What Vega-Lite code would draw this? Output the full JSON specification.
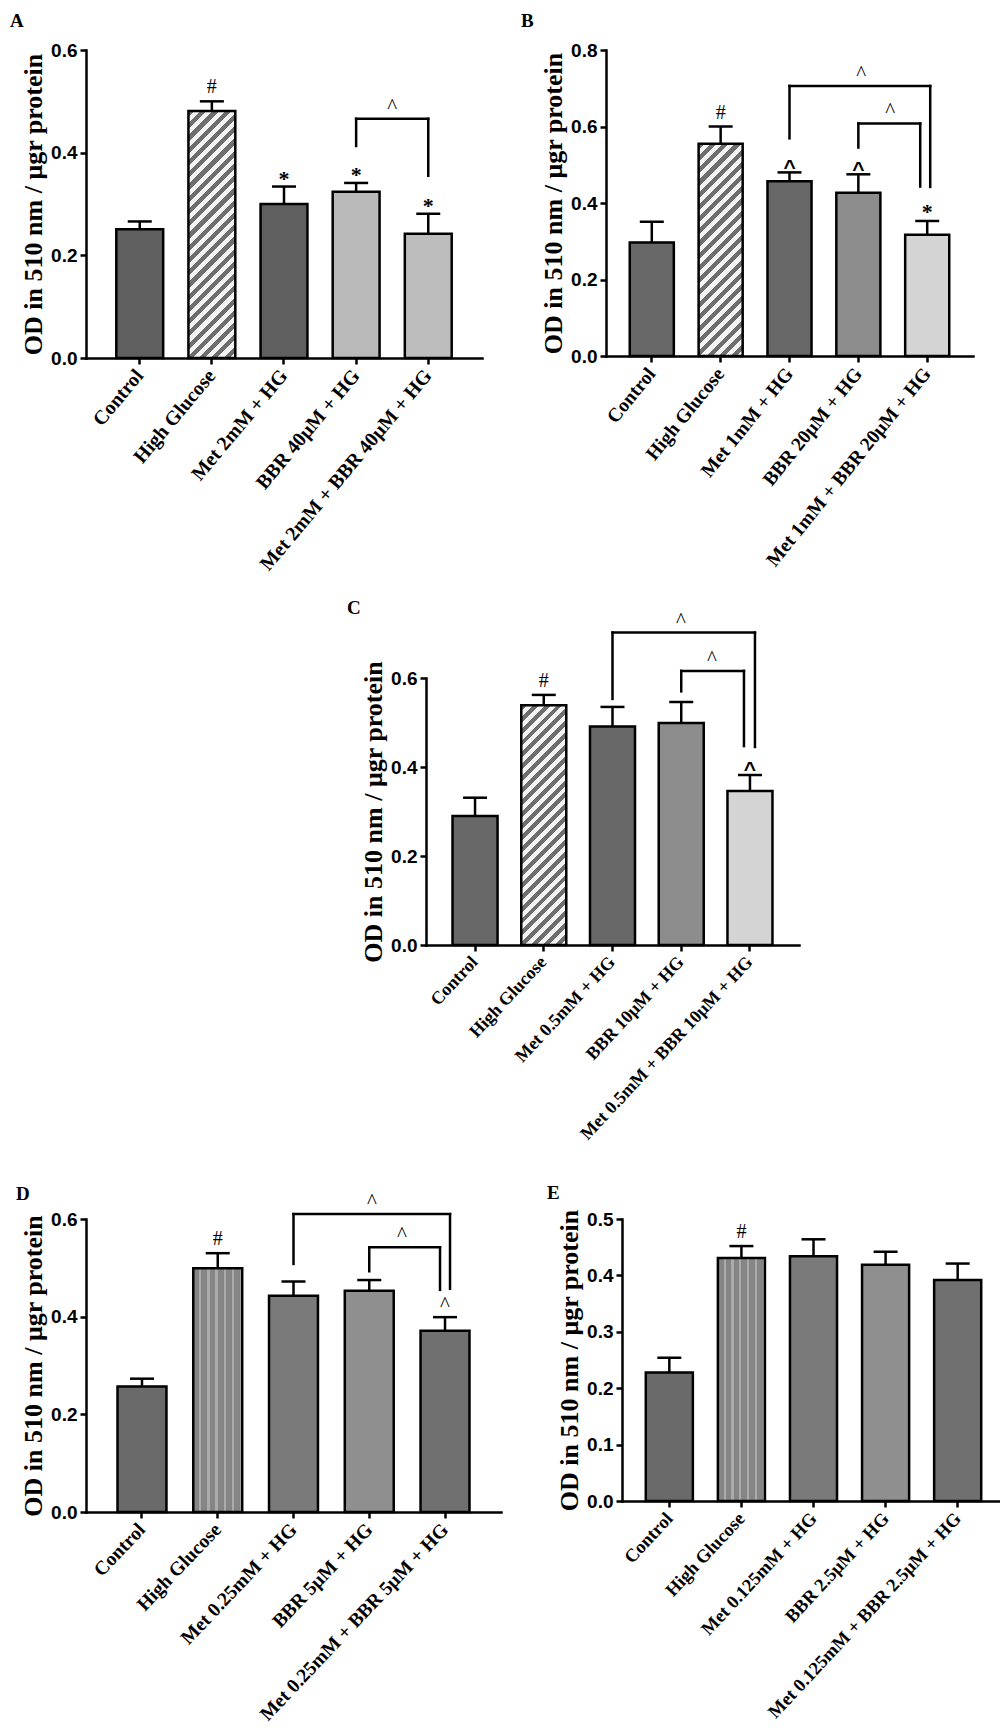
{
"$schema": "https://vega.github.io/schema/vega-lite/v6.json",
"padding": {"left": 10, "top": 12, "right": 0, "bottom": 0},
"background": "white",
"spacing": 24,
"resolve": {"scale": {"fill": "independent"}},
"config": {
  "view": {"stroke": null},
  "axis": {"domainColor": "black", "domainWidth": 2.5, "domainCap": "square", "tickColor": "black", "tickWidth": 2.5, "tickSize": 6, "grid": false, "labelColor": "black", "titleColor": "black"},
  "axisX": {"labelAngle": -50, "labelFont": "Liberation Serif", "labelFontWeight": "bold", "labelFontSize": 20, "labelAlign": "right", "labelBaseline": "middle", "labelPadding": 8, "labelLimit": 600, "labelOverlap": false, "labelFlush": false},
  "axisY": {"labelFont": "Liberation Sans", "labelFontWeight": "bold", "labelFontSize": 19, "labelPadding": 3, "titleFont": "Liberation Serif", "titleFontWeight": "bold", "titleFontSize": 26, "titlePadding": 4},
  "title": {"font": "Liberation Serif", "fontWeight": "bold", "fontSize": 19, "anchor": "start", "frame": "group", "color": "black"}
},
"datasets": {
  "bars": [
    {"panel": "A", "group": "Control", "t": "Control", "mean": 0.251, "hi": 0.266, "sig": ""},
    {"panel": "A", "group": "High Glucose", "t": "HG", "mean": 0.481, "hi": 0.500, "sig": "#"},
    {"panel": "A", "group": "Met 2mM + HG", "t": "Met", "mean": 0.300, "hi": 0.334, "sig": "*"},
    {"panel": "A", "group": "BBR 40μM + HG", "t": "BBR", "mean": 0.324, "hi": 0.341, "sig": "*"},
    {"panel": "A", "group": "Met 2mM + BBR 40μM + HG", "t": "Combo", "mean": 0.242, "hi": 0.281, "sig": "*"},
    {"panel": "B", "group": "Control", "t": "Control", "mean": 0.297, "hi": 0.351, "sig": ""},
    {"panel": "B", "group": "High Glucose", "t": "HG", "mean": 0.555, "hi": 0.600, "sig": "#"},
    {"panel": "B", "group": "Met 1mM + HG", "t": "Met", "mean": 0.457, "hi": 0.480, "sig": "^"},
    {"panel": "B", "group": "BBR 20μM + HG", "t": "BBR", "mean": 0.427, "hi": 0.475, "sig": "^"},
    {"panel": "B", "group": "Met 1mM + BBR 20μM + HG", "t": "Combo", "mean": 0.317, "hi": 0.353, "sig": "*"},
    {"panel": "C", "group": "Control", "t": "Control", "mean": 0.290, "hi": 0.331, "sig": ""},
    {"panel": "C", "group": "High Glucose", "t": "HG", "mean": 0.539, "hi": 0.562, "sig": "#"},
    {"panel": "C", "group": "Met 0.5mM + HG", "t": "Met", "mean": 0.491, "hi": 0.535, "sig": ""},
    {"panel": "C", "group": "BBR 10μM + HG", "t": "BBR", "mean": 0.499, "hi": 0.546, "sig": ""},
    {"panel": "C", "group": "Met 0.5mM + BBR 10μM + HG", "t": "Combo", "mean": 0.346, "hi": 0.382, "sig": "^"},
    {"panel": "D", "group": "Control", "t": "Control", "mean": 0.257, "hi": 0.273, "sig": ""},
    {"panel": "D", "group": "High Glucose", "t": "HG", "mean": 0.499, "hi": 0.530, "sig": "#"},
    {"panel": "D", "group": "Met 0.25mM + HG", "t": "Met", "mean": 0.443, "hi": 0.472, "sig": ""},
    {"panel": "D", "group": "BBR 5μM + HG", "t": "BBR", "mean": 0.453, "hi": 0.475, "sig": ""},
    {"panel": "D", "group": "Met 0.25mM + BBR 5μM + HG", "t": "Combo", "mean": 0.371, "hi": 0.399, "sig": "^"},
    {"panel": "E", "group": "Control", "t": "Control", "mean": 0.228, "hi": 0.254, "sig": ""},
    {"panel": "E", "group": "High Glucose", "t": "HG", "mean": 0.431, "hi": 0.452, "sig": "#"},
    {"panel": "E", "group": "Met 0.125mM + HG", "t": "Met", "mean": 0.434, "hi": 0.464, "sig": ""},
    {"panel": "E", "group": "BBR 2.5μM + HG", "t": "BBR", "mean": 0.419, "hi": 0.442, "sig": ""},
    {"panel": "E", "group": "Met 0.125mM + BBR 2.5μM + HG", "t": "Combo", "mean": 0.392, "hi": 0.421, "sig": ""}
  ],
  "br": [
    {"panel": "A", "kind": "single", "from": "BBR 40μM + HG", "to": "Met 2mM + BBR 40μM + HG", "top": 0.466, "fromEnd": 0.413, "toEnd": 0.355, "sym": "^"},
    {"panel": "B", "kind": "outer", "from": "Met 1mM + HG", "to": "Met 1mM + BBR 20μM + HG", "top": 0.706, "fromEnd": 0.569, "toEnd": 0.442, "sym": "^"},
    {"panel": "B", "kind": "inner", "from": "BBR 20μM + HG", "to": "Met 1mM + BBR 20μM + HG", "top": 0.608, "fromEnd": 0.545, "toEnd": 0.443, "sym": "^"},
    {"panel": "C", "kind": "outer", "from": "Met 0.5mM + HG", "to": "Met 0.5mM + BBR 10μM + HG", "top": 0.702, "fromEnd": 0.553, "toEnd": 0.445, "sym": "^"},
    {"panel": "C", "kind": "inner", "from": "BBR 10μM + HG", "to": "Met 0.5mM + BBR 10μM + HG", "top": 0.616, "fromEnd": 0.570, "toEnd": 0.447, "sym": "^"},
    {"panel": "D", "kind": "outer", "from": "Met 0.25mM + HG", "to": "Met 0.25mM + BBR 5μM + HG", "top": 0.610, "fromEnd": 0.508, "toEnd": 0.457, "sym": "^"},
    {"panel": "D", "kind": "inner", "from": "BBR 5μM + HG", "to": "Met 0.25mM + BBR 5μM + HG", "top": 0.542, "fromEnd": 0.493, "toEnd": 0.455, "sym": "^"}
  ]
},
"vconcat": [
 {"hconcat": [
  {"width": 396, "height": 308,
   "title": {"text": "A", "dx": -76, "offset": 10},
   "layer": [
    {"data": {"name": "bars"}, "transform": [{"filter": "datum.panel=='A'"}],
     "mark": {"type": "bar", "stroke": "black", "strokeWidth": 2.5, "opacity": 1},
     "encoding": {
      "x": {"field": "group", "type": "nominal", "sort": null, "scale": {"paddingInner": 0.35, "paddingOuter": 0.42}, "axis": {"title": null, "labelAngle": -50, "labelFontSize": 20}},
      "y": {"field": "mean", "type": "quantitative", "scale": {"domain": [0, 0.6], "nice": false}, "axis": {"values": [0, 0.2, 0.4, 0.6], "format": ".1f", "title": "OD in 510 nm / μgr protein"}},
      "fill": {"condition": {"test": "datum.t=='HG'", "value": {"gradient": "linear", "x1": 0, "y1": 0, "x2": 0.2181, "y2": 1.1485, "stops": [
        {"offset": 0, "color": "#6e6e6e"},
        {"offset": 0.0208, "color": "#6e6e6e"}, {"offset": 0.0208, "color": "#f4f4f4"}, {"offset": 0.0417, "color": "#f4f4f4"}, {"offset": 0.0417, "color": "#6e6e6e"},
        {"offset": 0.0625, "color": "#6e6e6e"}, {"offset": 0.0625, "color": "#f4f4f4"}, {"offset": 0.0833, "color": "#f4f4f4"}, {"offset": 0.0833, "color": "#6e6e6e"},
        {"offset": 0.1042, "color": "#6e6e6e"}, {"offset": 0.1042, "color": "#f4f4f4"}, {"offset": 0.125, "color": "#f4f4f4"}, {"offset": 0.125, "color": "#6e6e6e"},
        {"offset": 0.1458, "color": "#6e6e6e"}, {"offset": 0.1458, "color": "#f4f4f4"}, {"offset": 0.1667, "color": "#f4f4f4"}, {"offset": 0.1667, "color": "#6e6e6e"},
        {"offset": 0.1875, "color": "#6e6e6e"}, {"offset": 0.1875, "color": "#f4f4f4"}, {"offset": 0.2083, "color": "#f4f4f4"}, {"offset": 0.2083, "color": "#6e6e6e"},
        {"offset": 0.2292, "color": "#6e6e6e"}, {"offset": 0.2292, "color": "#f4f4f4"}, {"offset": 0.25, "color": "#f4f4f4"}, {"offset": 0.25, "color": "#6e6e6e"},
        {"offset": 0.2708, "color": "#6e6e6e"}, {"offset": 0.2708, "color": "#f4f4f4"}, {"offset": 0.2917, "color": "#f4f4f4"}, {"offset": 0.2917, "color": "#6e6e6e"},
        {"offset": 0.3125, "color": "#6e6e6e"}, {"offset": 0.3125, "color": "#f4f4f4"}, {"offset": 0.3333, "color": "#f4f4f4"}, {"offset": 0.3333, "color": "#6e6e6e"},
        {"offset": 0.3542, "color": "#6e6e6e"}, {"offset": 0.3542, "color": "#f4f4f4"}, {"offset": 0.375, "color": "#f4f4f4"}, {"offset": 0.375, "color": "#6e6e6e"},
        {"offset": 0.3958, "color": "#6e6e6e"}, {"offset": 0.3958, "color": "#f4f4f4"}, {"offset": 0.4167, "color": "#f4f4f4"}, {"offset": 0.4167, "color": "#6e6e6e"},
        {"offset": 0.4375, "color": "#6e6e6e"}, {"offset": 0.4375, "color": "#f4f4f4"}, {"offset": 0.4583, "color": "#f4f4f4"}, {"offset": 0.4583, "color": "#6e6e6e"},
        {"offset": 0.4792, "color": "#6e6e6e"}, {"offset": 0.4792, "color": "#f4f4f4"}, {"offset": 0.5, "color": "#f4f4f4"}, {"offset": 0.5, "color": "#6e6e6e"},
        {"offset": 0.5208, "color": "#6e6e6e"}, {"offset": 0.5208, "color": "#f4f4f4"}, {"offset": 0.5417, "color": "#f4f4f4"}, {"offset": 0.5417, "color": "#6e6e6e"},
        {"offset": 0.5625, "color": "#6e6e6e"}, {"offset": 0.5625, "color": "#f4f4f4"}, {"offset": 0.5833, "color": "#f4f4f4"}, {"offset": 0.5833, "color": "#6e6e6e"},
        {"offset": 0.6042, "color": "#6e6e6e"}, {"offset": 0.6042, "color": "#f4f4f4"}, {"offset": 0.625, "color": "#f4f4f4"}, {"offset": 0.625, "color": "#6e6e6e"},
        {"offset": 0.6458, "color": "#6e6e6e"}, {"offset": 0.6458, "color": "#f4f4f4"}, {"offset": 0.6667, "color": "#f4f4f4"}, {"offset": 0.6667, "color": "#6e6e6e"},
        {"offset": 0.6875, "color": "#6e6e6e"}, {"offset": 0.6875, "color": "#f4f4f4"}, {"offset": 0.7083, "color": "#f4f4f4"}, {"offset": 0.7083, "color": "#6e6e6e"},
        {"offset": 0.7292, "color": "#6e6e6e"}, {"offset": 0.7292, "color": "#f4f4f4"}, {"offset": 0.75, "color": "#f4f4f4"}, {"offset": 0.75, "color": "#6e6e6e"},
        {"offset": 0.7708, "color": "#6e6e6e"}, {"offset": 0.7708, "color": "#f4f4f4"}, {"offset": 0.7917, "color": "#f4f4f4"}, {"offset": 0.7917, "color": "#6e6e6e"},
        {"offset": 0.8125, "color": "#6e6e6e"}, {"offset": 0.8125, "color": "#f4f4f4"}, {"offset": 0.8333, "color": "#f4f4f4"}, {"offset": 0.8333, "color": "#6e6e6e"},
        {"offset": 0.8542, "color": "#6e6e6e"}, {"offset": 0.8542, "color": "#f4f4f4"}, {"offset": 0.875, "color": "#f4f4f4"}, {"offset": 0.875, "color": "#6e6e6e"},
        {"offset": 0.8958, "color": "#6e6e6e"}, {"offset": 0.8958, "color": "#f4f4f4"}, {"offset": 0.9167, "color": "#f4f4f4"}, {"offset": 0.9167, "color": "#6e6e6e"},
        {"offset": 0.9375, "color": "#6e6e6e"}, {"offset": 0.9375, "color": "#f4f4f4"}, {"offset": 0.9583, "color": "#f4f4f4"}, {"offset": 0.9583, "color": "#6e6e6e"},
        {"offset": 0.9792, "color": "#6e6e6e"}, {"offset": 0.9792, "color": "#f4f4f4"}, {"offset": 1, "color": "#f4f4f4"}]}},
       "field": "t", "type": "nominal", "scale": {"domain": ["Control", "HG", "Met", "BBR", "Combo"], "range": ["#5f5f5f", "#a9a9a9", "#5f5f5f", "#b9b9b9", "#bdbdbd"]}, "legend": null}}},
    {"data": {"name": "bars"}, "transform": [{"filter": "datum.panel=='A'"}],
     "mark": {"type": "rule", "strokeWidth": 2.5, "color": "black"},
     "encoding": {"x": {"field": "group", "type": "nominal", "sort": null}, "y": {"field": "mean", "type": "quantitative"}, "y2": {"field": "hi"}}},
    {"data": {"name": "bars"}, "transform": [{"filter": "datum.panel=='A'"}],
     "mark": {"type": "tick", "thickness": 2.5, "size": 24, "color": "black", "opacity": 1},
     "encoding": {"x": {"field": "group", "type": "nominal", "sort": null}, "y": {"field": "hi", "type": "quantitative"}}},
    {"data": {"name": "bars"}, "transform": [{"filter": "datum.panel=='A' && datum.sig=='#'"}],
     "mark": {"type": "text", "font": "Liberation Serif", "fontSize": 20, "baseline": "alphabetic", "dy": -8, "color": "black"},
     "encoding": {"x": {"field": "group", "type": "nominal", "sort": null}, "y": {"field": "hi", "type": "quantitative"}, "text": {"field": "sig"}}},
    {"data": {"name": "bars"}, "transform": [{"filter": "datum.panel=='A' && datum.sig=='*'"}],
     "mark": {"type": "text", "font": "Liberation Serif", "fontWeight": "bold", "fontSize": 22, "baseline": "alphabetic", "dy": -1, "color": "black"},
     "encoding": {"x": {"field": "group", "type": "nominal", "sort": null}, "y": {"field": "hi", "type": "quantitative"}, "text": {"field": "sig"}}},
    {"data": {"name": "br"}, "transform": [{"filter": "datum.panel=='A'"}],
     "mark": {"type": "rule", "strokeWidth": 2.5, "color": "black", "strokeCap": "square"},
     "encoding": {"x": {"field": "from", "type": "nominal", "sort": null}, "x2": {"field": "to"}, "y": {"field": "top", "type": "quantitative"}}},
    {"data": {"name": "br"}, "transform": [{"filter": "datum.panel=='A'"}],
     "mark": {"type": "rule", "strokeWidth": 2.5, "color": "black", "strokeCap": "square"},
     "encoding": {"x": {"field": "from", "type": "nominal", "sort": null}, "y": {"field": "top", "type": "quantitative"}, "y2": {"field": "fromEnd"}}},
    {"data": {"name": "br"}, "transform": [{"filter": "datum.panel=='A'"}],
     "mark": {"type": "rule", "strokeWidth": 2.5, "color": "black", "strokeCap": "square"},
     "encoding": {"x": {"field": "to", "type": "nominal", "sort": null}, "y": {"field": "top", "type": "quantitative"}, "y2": {"field": "toEnd"}}},
    {"data": {"name": "br"}, "transform": [{"filter": "datum.panel=='A'"}],
     "mark": {"type": "text", "font": "Liberation Serif", "fontSize": 21, "baseline": "alphabetic", "dx": -36, "dy": -6, "color": "black"},
     "encoding": {"x": {"field": "to", "type": "nominal", "sort": null}, "y": {"field": "top", "type": "quantitative"}, "text": {"field": "sym"}}}
   ]},
  {"width": 367, "height": 306,
   "title": {"text": "B", "dx": -85, "offset": 10},
   "layer": [
    {"data": {"name": "bars"}, "transform": [{"filter": "datum.panel=='B'"}],
     "mark": {"type": "bar", "stroke": "black", "strokeWidth": 2.5, "opacity": 1},
     "encoding": {
      "x": {"field": "group", "type": "nominal", "sort": null, "scale": {"paddingInner": 0.36, "paddingOuter": 0.345}, "axis": {"title": null, "labelAngle": -51, "labelFontSize": 19.5}},
      "y": {"field": "mean", "type": "quantitative", "scale": {"domain": [0, 0.8], "nice": false}, "axis": {"values": [0, 0.2, 0.4, 0.6, 0.8], "format": ".1f", "title": "OD in 510 nm / μgr protein"}},
      "fill": {"condition": {"test": "datum.t=='HG'", "value": {"gradient": "linear", "x1": 0, "y1": 0, "x2": 0.2403, "y2": 1.1577, "stops": [
        {"offset": 0, "color": "#6e6e6e"},
        {"offset": 0.0238, "color": "#6e6e6e"}, {"offset": 0.0238, "color": "#f4f4f4"}, {"offset": 0.0476, "color": "#f4f4f4"}, {"offset": 0.0476, "color": "#6e6e6e"},
        {"offset": 0.0714, "color": "#6e6e6e"}, {"offset": 0.0714, "color": "#f4f4f4"}, {"offset": 0.0952, "color": "#f4f4f4"}, {"offset": 0.0952, "color": "#6e6e6e"},
        {"offset": 0.119, "color": "#6e6e6e"}, {"offset": 0.119, "color": "#f4f4f4"}, {"offset": 0.1429, "color": "#f4f4f4"}, {"offset": 0.1429, "color": "#6e6e6e"},
        {"offset": 0.1667, "color": "#6e6e6e"}, {"offset": 0.1667, "color": "#f4f4f4"}, {"offset": 0.1905, "color": "#f4f4f4"}, {"offset": 0.1905, "color": "#6e6e6e"},
        {"offset": 0.2143, "color": "#6e6e6e"}, {"offset": 0.2143, "color": "#f4f4f4"}, {"offset": 0.2381, "color": "#f4f4f4"}, {"offset": 0.2381, "color": "#6e6e6e"},
        {"offset": 0.2619, "color": "#6e6e6e"}, {"offset": 0.2619, "color": "#f4f4f4"}, {"offset": 0.2857, "color": "#f4f4f4"}, {"offset": 0.2857, "color": "#6e6e6e"},
        {"offset": 0.3095, "color": "#6e6e6e"}, {"offset": 0.3095, "color": "#f4f4f4"}, {"offset": 0.3333, "color": "#f4f4f4"}, {"offset": 0.3333, "color": "#6e6e6e"},
        {"offset": 0.3571, "color": "#6e6e6e"}, {"offset": 0.3571, "color": "#f4f4f4"}, {"offset": 0.381, "color": "#f4f4f4"}, {"offset": 0.381, "color": "#6e6e6e"},
        {"offset": 0.4048, "color": "#6e6e6e"}, {"offset": 0.4048, "color": "#f4f4f4"}, {"offset": 0.4286, "color": "#f4f4f4"}, {"offset": 0.4286, "color": "#6e6e6e"},
        {"offset": 0.4524, "color": "#6e6e6e"}, {"offset": 0.4524, "color": "#f4f4f4"}, {"offset": 0.4762, "color": "#f4f4f4"}, {"offset": 0.4762, "color": "#6e6e6e"},
        {"offset": 0.5, "color": "#6e6e6e"}, {"offset": 0.5, "color": "#f4f4f4"}, {"offset": 0.5238, "color": "#f4f4f4"}, {"offset": 0.5238, "color": "#6e6e6e"},
        {"offset": 0.5476, "color": "#6e6e6e"}, {"offset": 0.5476, "color": "#f4f4f4"}, {"offset": 0.5714, "color": "#f4f4f4"}, {"offset": 0.5714, "color": "#6e6e6e"},
        {"offset": 0.5952, "color": "#6e6e6e"}, {"offset": 0.5952, "color": "#f4f4f4"}, {"offset": 0.619, "color": "#f4f4f4"}, {"offset": 0.619, "color": "#6e6e6e"},
        {"offset": 0.6429, "color": "#6e6e6e"}, {"offset": 0.6429, "color": "#f4f4f4"}, {"offset": 0.6667, "color": "#f4f4f4"}, {"offset": 0.6667, "color": "#6e6e6e"},
        {"offset": 0.6905, "color": "#6e6e6e"}, {"offset": 0.6905, "color": "#f4f4f4"}, {"offset": 0.7143, "color": "#f4f4f4"}, {"offset": 0.7143, "color": "#6e6e6e"},
        {"offset": 0.7381, "color": "#6e6e6e"}, {"offset": 0.7381, "color": "#f4f4f4"}, {"offset": 0.7619, "color": "#f4f4f4"}, {"offset": 0.7619, "color": "#6e6e6e"},
        {"offset": 0.7857, "color": "#6e6e6e"}, {"offset": 0.7857, "color": "#f4f4f4"}, {"offset": 0.8095, "color": "#f4f4f4"}, {"offset": 0.8095, "color": "#6e6e6e"},
        {"offset": 0.8333, "color": "#6e6e6e"}, {"offset": 0.8333, "color": "#f4f4f4"}, {"offset": 0.8571, "color": "#f4f4f4"}, {"offset": 0.8571, "color": "#6e6e6e"},
        {"offset": 0.881, "color": "#6e6e6e"}, {"offset": 0.881, "color": "#f4f4f4"}, {"offset": 0.9048, "color": "#f4f4f4"}, {"offset": 0.9048, "color": "#6e6e6e"},
        {"offset": 0.9286, "color": "#6e6e6e"}, {"offset": 0.9286, "color": "#f4f4f4"}, {"offset": 0.9524, "color": "#f4f4f4"}, {"offset": 0.9524, "color": "#6e6e6e"},
        {"offset": 0.9762, "color": "#6e6e6e"}, {"offset": 0.9762, "color": "#f4f4f4"}, {"offset": 1, "color": "#f4f4f4"}]}},
       "field": "t", "type": "nominal", "scale": {"domain": ["Control", "HG", "Met", "BBR", "Combo"], "range": ["#686868", "#a9a9a9", "#686868", "#8c8c8c", "#d4d4d4"]}, "legend": null}}},
    {"data": {"name": "bars"}, "transform": [{"filter": "datum.panel=='B'"}],
     "mark": {"type": "rule", "strokeWidth": 2.5, "color": "black"},
     "encoding": {"x": {"field": "group", "type": "nominal", "sort": null}, "y": {"field": "mean", "type": "quantitative"}, "y2": {"field": "hi"}}},
    {"data": {"name": "bars"}, "transform": [{"filter": "datum.panel=='B'"}],
     "mark": {"type": "tick", "thickness": 2.5, "size": 24, "color": "black", "opacity": 1},
     "encoding": {"x": {"field": "group", "type": "nominal", "sort": null}, "y": {"field": "hi", "type": "quantitative"}}},
    {"data": {"name": "bars"}, "transform": [{"filter": "datum.panel=='B' && datum.sig=='#'"}],
     "mark": {"type": "text", "font": "Liberation Serif", "fontSize": 20, "baseline": "alphabetic", "dy": -8, "color": "black"},
     "encoding": {"x": {"field": "group", "type": "nominal", "sort": null}, "y": {"field": "hi", "type": "quantitative"}, "text": {"field": "sig"}}},
    {"data": {"name": "bars"}, "transform": [{"filter": "datum.panel=='B' && datum.sig=='*'"}],
     "mark": {"type": "text", "font": "Liberation Serif", "fontWeight": "bold", "fontSize": 22, "baseline": "alphabetic", "dy": -2, "color": "black"},
     "encoding": {"x": {"field": "group", "type": "nominal", "sort": null}, "y": {"field": "hi", "type": "quantitative"}, "text": {"field": "sig"}}},
    {"data": {"name": "bars"}, "transform": [{"filter": "datum.panel=='B' && datum.sig=='^'"}],
     "mark": {"type": "text", "font": "Liberation Sans", "fontWeight": "bold", "fontSize": 21, "baseline": "alphabetic", "dy": 2, "color": "black"},
     "encoding": {"x": {"field": "group", "type": "nominal", "sort": null}, "y": {"field": "hi", "type": "quantitative"}, "text": {"field": "sig"}}},
    {"data": {"name": "br"}, "transform": [{"filter": "datum.panel=='B'"}],
     "mark": {"type": "rule", "strokeWidth": 2.5, "color": "black", "strokeCap": "square"},
     "encoding": {"x": {"field": "from", "type": "nominal", "sort": null}, "y": {"field": "top", "type": "quantitative"}, "y2": {"field": "fromEnd"}}},
    {"data": {"name": "br"}, "transform": [{"filter": "datum.panel=='B' && datum.kind=='outer'"}],
     "mark": {"type": "rule", "strokeWidth": 2.5, "color": "black", "strokeCap": "square", "x2Offset": 3},
     "encoding": {"x": {"field": "from", "type": "nominal", "sort": null}, "x2": {"field": "to"}, "y": {"field": "top", "type": "quantitative"}}},
    {"data": {"name": "br"}, "transform": [{"filter": "datum.panel=='B' && datum.kind=='outer'"}],
     "mark": {"type": "rule", "strokeWidth": 2.5, "color": "black", "strokeCap": "square", "xOffset": 3},
     "encoding": {"x": {"field": "to", "type": "nominal", "sort": null}, "y": {"field": "top", "type": "quantitative"}, "y2": {"field": "toEnd"}}},
    {"data": {"name": "br"}, "transform": [{"filter": "datum.panel=='B' && datum.kind=='outer'"}],
     "mark": {"type": "text", "font": "Liberation Serif", "fontSize": 21, "baseline": "alphabetic", "dx": -66, "dy": -6, "color": "black"},
     "encoding": {"x": {"field": "to", "type": "nominal", "sort": null}, "y": {"field": "top", "type": "quantitative"}, "text": {"field": "sym"}}},
    {"data": {"name": "br"}, "transform": [{"filter": "datum.panel=='B' && datum.kind=='inner'"}],
     "mark": {"type": "rule", "strokeWidth": 2.5, "color": "black", "strokeCap": "square", "x2Offset": -7},
     "encoding": {"x": {"field": "from", "type": "nominal", "sort": null}, "x2": {"field": "to"}, "y": {"field": "top", "type": "quantitative"}}},
    {"data": {"name": "br"}, "transform": [{"filter": "datum.panel=='B' && datum.kind=='inner'"}],
     "mark": {"type": "rule", "strokeWidth": 2.5, "color": "black", "strokeCap": "square", "xOffset": -7},
     "encoding": {"x": {"field": "to", "type": "nominal", "sort": null}, "y": {"field": "top", "type": "quantitative"}, "y2": {"field": "toEnd"}}},
    {"data": {"name": "br"}, "transform": [{"filter": "datum.panel=='B' && datum.kind=='inner'"}],
     "mark": {"type": "text", "font": "Liberation Serif", "fontSize": 21, "baseline": "alphabetic", "dx": -37, "dy": -6, "color": "black"},
     "encoding": {"x": {"field": "to", "type": "nominal", "sort": null}, "y": {"field": "top", "type": "quantitative"}, "text": {"field": "sym"}}}
   ]}
 ], "spacing": 39, "resolve": {"scale": {"fill": "independent"}}},
 {"hconcat": [
  {"width": 261, "height": 482, "data": {"values": []}, "mark": "point"},
  {"width": 373, "height": 267,
   "title": {"text": "C", "dx": -79, "offset": -8},
   "layer": [
    {"data": {"name": "bars"}, "transform": [{"filter": "datum.panel=='C'"}],
     "mark": {"type": "bar", "stroke": "black", "strokeWidth": 2.5, "opacity": 1},
     "encoding": {
      "x": {"field": "group", "type": "nominal", "sort": null, "scale": {"paddingInner": 0.345, "paddingOuter": 0.386}, "axis": {"title": null, "labelAngle": -47, "labelFontSize": 18}},
      "y": {"field": "mean", "type": "quantitative", "scale": {"domain": [0, 0.6], "nice": false}, "axis": {"values": [0, 0.2, 0.4, 0.6], "format": ".1f", "title": "OD in 510 nm / μgr protein"}},
      "fill": {"condition": {"test": "datum.t=='HG'", "value": {"gradient": "linear", "x1": 0, "y1": 0, "x2": 0.2153, "y2": 1.1473, "stops": [
        {"offset": 0, "color": "#6e6e6e"},
        {"offset": 0.0208, "color": "#6e6e6e"}, {"offset": 0.0208, "color": "#f4f4f4"}, {"offset": 0.0417, "color": "#f4f4f4"}, {"offset": 0.0417, "color": "#6e6e6e"},
        {"offset": 0.0625, "color": "#6e6e6e"}, {"offset": 0.0625, "color": "#f4f4f4"}, {"offset": 0.0833, "color": "#f4f4f4"}, {"offset": 0.0833, "color": "#6e6e6e"},
        {"offset": 0.1042, "color": "#6e6e6e"}, {"offset": 0.1042, "color": "#f4f4f4"}, {"offset": 0.125, "color": "#f4f4f4"}, {"offset": 0.125, "color": "#6e6e6e"},
        {"offset": 0.1458, "color": "#6e6e6e"}, {"offset": 0.1458, "color": "#f4f4f4"}, {"offset": 0.1667, "color": "#f4f4f4"}, {"offset": 0.1667, "color": "#6e6e6e"},
        {"offset": 0.1875, "color": "#6e6e6e"}, {"offset": 0.1875, "color": "#f4f4f4"}, {"offset": 0.2083, "color": "#f4f4f4"}, {"offset": 0.2083, "color": "#6e6e6e"},
        {"offset": 0.2292, "color": "#6e6e6e"}, {"offset": 0.2292, "color": "#f4f4f4"}, {"offset": 0.25, "color": "#f4f4f4"}, {"offset": 0.25, "color": "#6e6e6e"},
        {"offset": 0.2708, "color": "#6e6e6e"}, {"offset": 0.2708, "color": "#f4f4f4"}, {"offset": 0.2917, "color": "#f4f4f4"}, {"offset": 0.2917, "color": "#6e6e6e"},
        {"offset": 0.3125, "color": "#6e6e6e"}, {"offset": 0.3125, "color": "#f4f4f4"}, {"offset": 0.3333, "color": "#f4f4f4"}, {"offset": 0.3333, "color": "#6e6e6e"},
        {"offset": 0.3542, "color": "#6e6e6e"}, {"offset": 0.3542, "color": "#f4f4f4"}, {"offset": 0.375, "color": "#f4f4f4"}, {"offset": 0.375, "color": "#6e6e6e"},
        {"offset": 0.3958, "color": "#6e6e6e"}, {"offset": 0.3958, "color": "#f4f4f4"}, {"offset": 0.4167, "color": "#f4f4f4"}, {"offset": 0.4167, "color": "#6e6e6e"},
        {"offset": 0.4375, "color": "#6e6e6e"}, {"offset": 0.4375, "color": "#f4f4f4"}, {"offset": 0.4583, "color": "#f4f4f4"}, {"offset": 0.4583, "color": "#6e6e6e"},
        {"offset": 0.4792, "color": "#6e6e6e"}, {"offset": 0.4792, "color": "#f4f4f4"}, {"offset": 0.5, "color": "#f4f4f4"}, {"offset": 0.5, "color": "#6e6e6e"},
        {"offset": 0.5208, "color": "#6e6e6e"}, {"offset": 0.5208, "color": "#f4f4f4"}, {"offset": 0.5417, "color": "#f4f4f4"}, {"offset": 0.5417, "color": "#6e6e6e"},
        {"offset": 0.5625, "color": "#6e6e6e"}, {"offset": 0.5625, "color": "#f4f4f4"}, {"offset": 0.5833, "color": "#f4f4f4"}, {"offset": 0.5833, "color": "#6e6e6e"},
        {"offset": 0.6042, "color": "#6e6e6e"}, {"offset": 0.6042, "color": "#f4f4f4"}, {"offset": 0.625, "color": "#f4f4f4"}, {"offset": 0.625, "color": "#6e6e6e"},
        {"offset": 0.6458, "color": "#6e6e6e"}, {"offset": 0.6458, "color": "#f4f4f4"}, {"offset": 0.6667, "color": "#f4f4f4"}, {"offset": 0.6667, "color": "#6e6e6e"},
        {"offset": 0.6875, "color": "#6e6e6e"}, {"offset": 0.6875, "color": "#f4f4f4"}, {"offset": 0.7083, "color": "#f4f4f4"}, {"offset": 0.7083, "color": "#6e6e6e"},
        {"offset": 0.7292, "color": "#6e6e6e"}, {"offset": 0.7292, "color": "#f4f4f4"}, {"offset": 0.75, "color": "#f4f4f4"}, {"offset": 0.75, "color": "#6e6e6e"},
        {"offset": 0.7708, "color": "#6e6e6e"}, {"offset": 0.7708, "color": "#f4f4f4"}, {"offset": 0.7917, "color": "#f4f4f4"}, {"offset": 0.7917, "color": "#6e6e6e"},
        {"offset": 0.8125, "color": "#6e6e6e"}, {"offset": 0.8125, "color": "#f4f4f4"}, {"offset": 0.8333, "color": "#f4f4f4"}, {"offset": 0.8333, "color": "#6e6e6e"},
        {"offset": 0.8542, "color": "#6e6e6e"}, {"offset": 0.8542, "color": "#f4f4f4"}, {"offset": 0.875, "color": "#f4f4f4"}, {"offset": 0.875, "color": "#6e6e6e"},
        {"offset": 0.8958, "color": "#6e6e6e"}, {"offset": 0.8958, "color": "#f4f4f4"}, {"offset": 0.9167, "color": "#f4f4f4"}, {"offset": 0.9167, "color": "#6e6e6e"},
        {"offset": 0.9375, "color": "#6e6e6e"}, {"offset": 0.9375, "color": "#f4f4f4"}, {"offset": 0.9583, "color": "#f4f4f4"}, {"offset": 0.9583, "color": "#6e6e6e"},
        {"offset": 0.9792, "color": "#6e6e6e"}, {"offset": 0.9792, "color": "#f4f4f4"}, {"offset": 1, "color": "#f4f4f4"}]}},
       "field": "t", "type": "nominal", "scale": {"domain": ["Control", "HG", "Met", "BBR", "Combo"], "range": ["#686868", "#a9a9a9", "#686868", "#8c8c8c", "#d4d4d4"]}, "legend": null}}},
    {"data": {"name": "bars"}, "transform": [{"filter": "datum.panel=='C'"}],
     "mark": {"type": "rule", "strokeWidth": 2.5, "color": "black"},
     "encoding": {"x": {"field": "group", "type": "nominal", "sort": null}, "y": {"field": "mean", "type": "quantitative"}, "y2": {"field": "hi"}}},
    {"data": {"name": "bars"}, "transform": [{"filter": "datum.panel=='C'"}],
     "mark": {"type": "tick", "thickness": 2.5, "size": 24, "color": "black", "opacity": 1},
     "encoding": {"x": {"field": "group", "type": "nominal", "sort": null}, "y": {"field": "hi", "type": "quantitative"}}},
    {"data": {"name": "bars"}, "transform": [{"filter": "datum.panel=='C' && datum.sig=='#'"}],
     "mark": {"type": "text", "font": "Liberation Serif", "fontSize": 20, "baseline": "alphabetic", "dy": -8, "color": "black"},
     "encoding": {"x": {"field": "group", "type": "nominal", "sort": null}, "y": {"field": "hi", "type": "quantitative"}, "text": {"field": "sig"}}},
    {"data": {"name": "bars"}, "transform": [{"filter": "datum.panel=='C' && datum.sig=='^'"}],
     "mark": {"type": "text", "font": "Liberation Sans", "fontWeight": "bold", "fontSize": 21, "baseline": "alphabetic", "dy": 1, "color": "black"},
     "encoding": {"x": {"field": "group", "type": "nominal", "sort": null}, "y": {"field": "hi", "type": "quantitative"}, "text": {"field": "sig"}}},
    {"data": {"name": "br"}, "transform": [{"filter": "datum.panel=='C'"}],
     "mark": {"type": "rule", "strokeWidth": 2.5, "color": "black", "strokeCap": "square"},
     "encoding": {"x": {"field": "from", "type": "nominal", "sort": null}, "y": {"field": "top", "type": "quantitative"}, "y2": {"field": "fromEnd"}}},
    {"data": {"name": "br"}, "transform": [{"filter": "datum.panel=='C' && datum.kind=='outer'"}],
     "mark": {"type": "rule", "strokeWidth": 2.5, "color": "black", "strokeCap": "square", "x2Offset": 5},
     "encoding": {"x": {"field": "from", "type": "nominal", "sort": null}, "x2": {"field": "to"}, "y": {"field": "top", "type": "quantitative"}}},
    {"data": {"name": "br"}, "transform": [{"filter": "datum.panel=='C' && datum.kind=='outer'"}],
     "mark": {"type": "rule", "strokeWidth": 2.5, "color": "black", "strokeCap": "square", "xOffset": 5},
     "encoding": {"x": {"field": "to", "type": "nominal", "sort": null}, "y": {"field": "top", "type": "quantitative"}, "y2": {"field": "toEnd"}}},
    {"data": {"name": "br"}, "transform": [{"filter": "datum.panel=='C' && datum.kind=='outer'"}],
     "mark": {"type": "text", "font": "Liberation Serif", "fontSize": 21, "baseline": "alphabetic", "dx": -69, "dy": -6, "color": "black"},
     "encoding": {"x": {"field": "to", "type": "nominal", "sort": null}, "y": {"field": "top", "type": "quantitative"}, "text": {"field": "sym"}}},
    {"data": {"name": "br"}, "transform": [{"filter": "datum.panel=='C' && datum.kind=='inner'"}],
     "mark": {"type": "rule", "strokeWidth": 2.5, "color": "black", "strokeCap": "square", "x2Offset": -6},
     "encoding": {"x": {"field": "from", "type": "nominal", "sort": null}, "x2": {"field": "to"}, "y": {"field": "top", "type": "quantitative"}}},
    {"data": {"name": "br"}, "transform": [{"filter": "datum.panel=='C' && datum.kind=='inner'"}],
     "mark": {"type": "rule", "strokeWidth": 2.5, "color": "black", "strokeCap": "square", "xOffset": -6},
     "encoding": {"x": {"field": "to", "type": "nominal", "sort": null}, "y": {"field": "top", "type": "quantitative"}, "y2": {"field": "toEnd"}}},
    {"data": {"name": "br"}, "transform": [{"filter": "datum.panel=='C' && datum.kind=='inner'"}],
     "mark": {"type": "text", "font": "Liberation Serif", "fontSize": 21, "baseline": "alphabetic", "dx": -38, "dy": -6, "color": "black"},
     "encoding": {"x": {"field": "to", "type": "nominal", "sort": null}, "y": {"field": "top", "type": "quantitative"}, "text": {"field": "sym"}}}
   ]}
 ], "spacing": 0, "resolve": {"scale": {"fill": "independent"}}},
 {"hconcat": [
  {"width": 415, "height": 293,
   "title": {"text": "D", "dx": -70, "offset": -13},
   "layer": [
    {"data": {"name": "bars"}, "transform": [{"filter": "datum.panel=='D'"}],
     "mark": {"type": "bar", "stroke": "black", "strokeWidth": 2.5, "opacity": 1},
     "encoding": {
      "x": {"field": "group", "type": "nominal", "sort": null, "scale": {"paddingInner": 0.354, "paddingOuter": 0.416}, "axis": {"title": null, "labelAngle": -46.5, "labelFontSize": 19.5}},
      "y": {"field": "mean", "type": "quantitative", "scale": {"domain": [0, 0.6], "nice": false}, "axis": {"values": [0, 0.2, 0.4, 0.6], "format": ".1f", "title": "OD in 510 nm / μgr protein"}},
      "fill": {"condition": {"test": "datum.t=='HG'", "value": {"gradient": "linear", "x1": 0, "y1": 0, "x2": 1, "y2": 0, "stops": [
        {"offset": 0, "color": "#858585"}, {"offset": 0.12, "color": "#858585"}, {"offset": 0.12, "color": "#ababab"}, {"offset": 0.1667, "color": "#ababab"},
        {"offset": 0.1667, "color": "#858585"}, {"offset": 0.2867, "color": "#858585"}, {"offset": 0.2867, "color": "#ababab"}, {"offset": 0.3333, "color": "#ababab"},
        {"offset": 0.3333, "color": "#858585"}, {"offset": 0.4533, "color": "#858585"}, {"offset": 0.4533, "color": "#ababab"}, {"offset": 0.5, "color": "#ababab"},
        {"offset": 0.5, "color": "#858585"}, {"offset": 0.62, "color": "#858585"}, {"offset": 0.62, "color": "#ababab"}, {"offset": 0.6667, "color": "#ababab"},
        {"offset": 0.6667, "color": "#858585"}, {"offset": 0.7867, "color": "#858585"}, {"offset": 0.7867, "color": "#ababab"}, {"offset": 0.8333, "color": "#ababab"},
        {"offset": 0.8333, "color": "#858585"}, {"offset": 0.9533, "color": "#858585"}, {"offset": 0.9533, "color": "#ababab"}, {"offset": 1, "color": "#ababab"}]}},
       "field": "t", "type": "nominal", "scale": {"domain": ["Control", "HG", "Met", "BBR", "Combo"], "range": ["#6a6a6a", "#8d8d8d", "#7a7a7a", "#8f8f8f", "#707070"]}, "legend": null}}},
    {"data": {"name": "bars"}, "transform": [{"filter": "datum.panel=='D'"}],
     "mark": {"type": "rule", "strokeWidth": 2.5, "color": "black"},
     "encoding": {"x": {"field": "group", "type": "nominal", "sort": null}, "y": {"field": "mean", "type": "quantitative"}, "y2": {"field": "hi"}}},
    {"data": {"name": "bars"}, "transform": [{"filter": "datum.panel=='D'"}],
     "mark": {"type": "tick", "thickness": 2.5, "size": 24, "color": "black", "opacity": 1},
     "encoding": {"x": {"field": "group", "type": "nominal", "sort": null}, "y": {"field": "hi", "type": "quantitative"}}},
    {"data": {"name": "bars"}, "transform": [{"filter": "datum.panel=='D' && datum.sig=='#'"}],
     "mark": {"type": "text", "font": "Liberation Serif", "fontSize": 20, "baseline": "alphabetic", "dy": -8, "color": "black"},
     "encoding": {"x": {"field": "group", "type": "nominal", "sort": null}, "y": {"field": "hi", "type": "quantitative"}, "text": {"field": "sig"}}},
    {"data": {"name": "bars"}, "transform": [{"filter": "datum.panel=='D' && datum.sig=='^'"}],
     "mark": {"type": "text", "font": "Liberation Serif", "fontSize": 21, "baseline": "alphabetic", "dy": -6, "color": "black"},
     "encoding": {"x": {"field": "group", "type": "nominal", "sort": null}, "y": {"field": "hi", "type": "quantitative"}, "text": {"field": "sig"}}},
    {"data": {"name": "br"}, "transform": [{"filter": "datum.panel=='D'"}],
     "mark": {"type": "rule", "strokeWidth": 2.5, "color": "black", "strokeCap": "square"},
     "encoding": {"x": {"field": "from", "type": "nominal", "sort": null}, "y": {"field": "top", "type": "quantitative"}, "y2": {"field": "fromEnd"}}},
    {"data": {"name": "br"}, "transform": [{"filter": "datum.panel=='D' && datum.kind=='outer'"}],
     "mark": {"type": "rule", "strokeWidth": 2.5, "color": "black", "strokeCap": "square", "x2Offset": 5},
     "encoding": {"x": {"field": "from", "type": "nominal", "sort": null}, "x2": {"field": "to"}, "y": {"field": "top", "type": "quantitative"}}},
    {"data": {"name": "br"}, "transform": [{"filter": "datum.panel=='D' && datum.kind=='outer'"}],
     "mark": {"type": "rule", "strokeWidth": 2.5, "color": "black", "strokeCap": "square", "xOffset": 5},
     "encoding": {"x": {"field": "to", "type": "nominal", "sort": null}, "y": {"field": "top", "type": "quantitative"}, "y2": {"field": "toEnd"}}},
    {"data": {"name": "br"}, "transform": [{"filter": "datum.panel=='D' && datum.kind=='outer'"}],
     "mark": {"type": "text", "font": "Liberation Serif", "fontSize": 21, "baseline": "alphabetic", "dx": -73, "dy": -6, "color": "black"},
     "encoding": {"x": {"field": "to", "type": "nominal", "sort": null}, "y": {"field": "top", "type": "quantitative"}, "text": {"field": "sym"}}},
    {"data": {"name": "br"}, "transform": [{"filter": "datum.panel=='D' && datum.kind=='inner'"}],
     "mark": {"type": "rule", "strokeWidth": 2.5, "color": "black", "strokeCap": "square", "x2Offset": -5},
     "encoding": {"x": {"field": "from", "type": "nominal", "sort": null}, "x2": {"field": "to"}, "y": {"field": "top", "type": "quantitative"}}},
    {"data": {"name": "br"}, "transform": [{"filter": "datum.panel=='D' && datum.kind=='inner'"}],
     "mark": {"type": "rule", "strokeWidth": 2.5, "color": "black", "strokeCap": "square", "xOffset": -5},
     "encoding": {"x": {"field": "to", "type": "nominal", "sort": null}, "y": {"field": "top", "type": "quantitative"}, "y2": {"field": "toEnd"}}},
    {"data": {"name": "br"}, "transform": [{"filter": "datum.panel=='D' && datum.kind=='inner'"}],
     "mark": {"type": "text", "font": "Liberation Serif", "fontSize": 21, "baseline": "alphabetic", "dx": -43, "dy": -6, "color": "black"},
     "encoding": {"x": {"field": "to", "type": "nominal", "sort": null}, "y": {"field": "top", "type": "quantitative"}, "text": {"field": "sym"}}}
   ]},
  {"width": 383, "height": 282,
   "title": {"text": "E", "dx": -75, "offset": 6},
   "layer": [
    {"data": {"name": "bars"}, "transform": [{"filter": "datum.panel=='E'"}],
     "mark": {"type": "bar", "stroke": "black", "strokeWidth": 2.5, "opacity": 1},
     "encoding": {
      "x": {"field": "group", "type": "nominal", "sort": null, "scale": {"paddingInner": 0.347, "paddingOuter": 0.33}, "axis": {"title": null, "labelAngle": -47, "labelFontSize": 18.5}},
      "y": {"field": "mean", "type": "quantitative", "scale": {"domain": [0, 0.5], "nice": false}, "axis": {"values": [0, 0.1, 0.2, 0.3, 0.4, 0.5], "format": ".1f", "title": "OD in 510 nm / μgr protein"}},
      "fill": {"condition": {"test": "datum.t=='HG'", "value": {"gradient": "linear", "x1": 0, "y1": 0, "x2": 1, "y2": 0, "stops": [
        {"offset": 0, "color": "#858585"}, {"offset": 0.12, "color": "#858585"}, {"offset": 0.12, "color": "#ababab"}, {"offset": 0.1667, "color": "#ababab"},
        {"offset": 0.1667, "color": "#858585"}, {"offset": 0.2867, "color": "#858585"}, {"offset": 0.2867, "color": "#ababab"}, {"offset": 0.3333, "color": "#ababab"},
        {"offset": 0.3333, "color": "#858585"}, {"offset": 0.4533, "color": "#858585"}, {"offset": 0.4533, "color": "#ababab"}, {"offset": 0.5, "color": "#ababab"},
        {"offset": 0.5, "color": "#858585"}, {"offset": 0.62, "color": "#858585"}, {"offset": 0.62, "color": "#ababab"}, {"offset": 0.6667, "color": "#ababab"},
        {"offset": 0.6667, "color": "#858585"}, {"offset": 0.7867, "color": "#858585"}, {"offset": 0.7867, "color": "#ababab"}, {"offset": 0.8333, "color": "#ababab"},
        {"offset": 0.8333, "color": "#858585"}, {"offset": 0.9533, "color": "#858585"}, {"offset": 0.9533, "color": "#ababab"}, {"offset": 1, "color": "#ababab"}]}},
       "field": "t", "type": "nominal", "scale": {"domain": ["Control", "HG", "Met", "BBR", "Combo"], "range": ["#6a6a6a", "#8d8d8d", "#7a7a7a", "#8f8f8f", "#707070"]}, "legend": null}}},
    {"data": {"name": "bars"}, "transform": [{"filter": "datum.panel=='E'"}],
     "mark": {"type": "rule", "strokeWidth": 2.5, "color": "black"},
     "encoding": {"x": {"field": "group", "type": "nominal", "sort": null}, "y": {"field": "mean", "type": "quantitative"}, "y2": {"field": "hi"}}},
    {"data": {"name": "bars"}, "transform": [{"filter": "datum.panel=='E'"}],
     "mark": {"type": "tick", "thickness": 2.5, "size": 24, "color": "black", "opacity": 1},
     "encoding": {"x": {"field": "group", "type": "nominal", "sort": null}, "y": {"field": "hi", "type": "quantitative"}}},
    {"data": {"name": "bars"}, "transform": [{"filter": "datum.panel=='E' && datum.sig=='#'"}],
     "mark": {"type": "text", "font": "Liberation Serif", "fontSize": 20, "baseline": "alphabetic", "dy": -8, "color": "black"},
     "encoding": {"x": {"field": "group", "type": "nominal", "sort": null}, "y": {"field": "hi", "type": "quantitative"}, "text": {"field": "sig"}}}
   ]}
 ], "spacing": 46, "resolve": {"scale": {"fill": "independent"}}}
]
}
